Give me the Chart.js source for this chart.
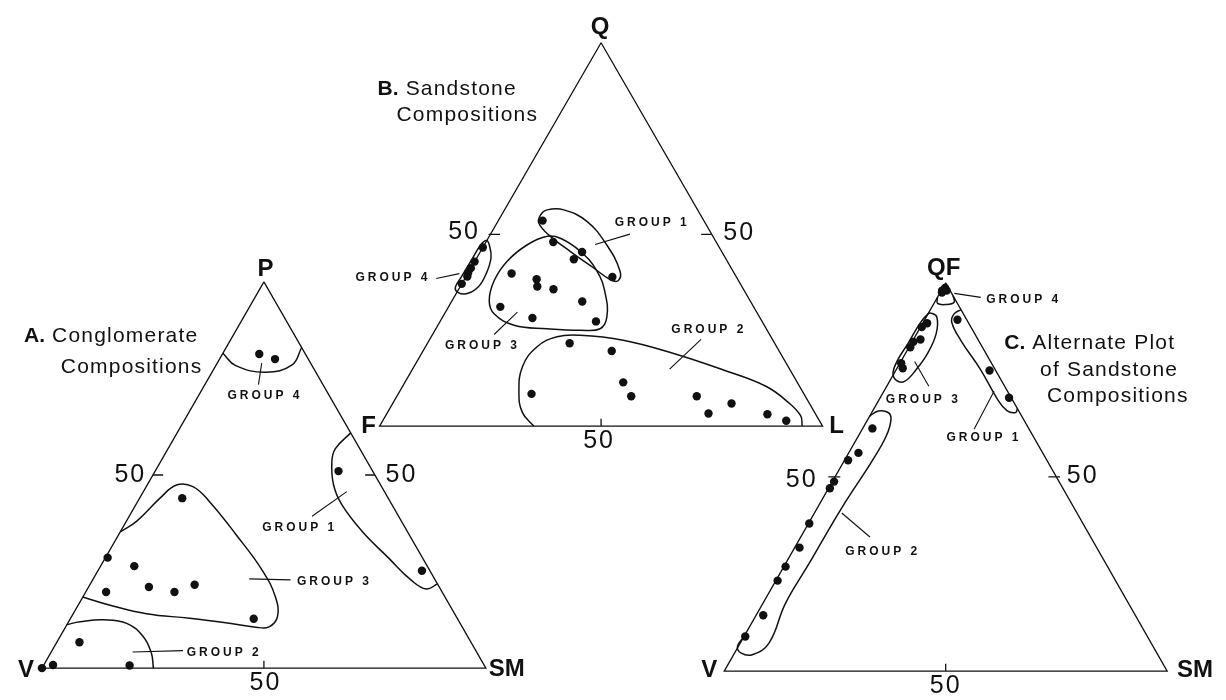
<!DOCTYPE html>
<html><head><meta charset="utf-8">
<script src="https://cdn.jsdelivr.net/npm/chart.js@4.4.1/dist/chart.umd.min.js"></script>
<style>html,body{margin:0;padding:0;background:#fff}#wrap{width:1226px;height:700px;position:relative}</style>
</head><body><div id="wrap"><canvas id="c" width="1226" height="700"></canvas></div>
<script>
// ---------- DATA (ternary compositions in %, pairs = [top apex %, right apex %]; left = 100 - top - right) ----------
// A. Conglomerate compositions: apexes P (top), V (left), SM (right)
const conglVertices = ['P', 'V', 'SM'];
const conglGroup1 = [[51.0, 41.3], [25.2, 73.0]];
const conglGroup2 = [[6.7, 5.1], [0.8, 2.1], [0, 0], [0.7, 19.4]];
const conglGroup3 = [[44.0, 9.6], [28.6, 0.5], [26.4, 7.6], [19.7, 4.6], [21.0, 13.6], [19.7, 20.0], [21.6, 23.6], [12.8, 41.3]];
const conglGroup4 = [[81.3, 8.3], [80.0, 12.5]];
const conglEnv1 = [[60.9, 39.1], [56.8, 37.7], [53.4, 38.6], [47.4, 42.0], [42.3, 46.4], [35.5, 54.3], [28.6, 63.7], [22.7, 71.9], [20.5, 76.3], [21.8, 78.2]];
const conglEnv2 = [[11.3, 0], [12.0, 2.6], [12.5, 7.7], [11.6, 13.3], [8.2, 18.7], [3.9, 22.7], [0, 25.1]];
const conglEnv3 = [[35.3, 0], [38.0, 2.3], [44.0, 4.6], [47.4, 6.6], [47.0, 10.5], [43.1, 16.2], [34.6, 26.4], [25.2, 37.1], [18.4, 43.4], [13.3, 46.4], [10.7, 45.8], [10.6, 42.9], [11.6, 36.4], [12.9, 26.8], [14.1, 16.5], [16.3, 7.2], [18.4, 0]];
const conglEnv4 = [[81.5, 0], [78.3, 4.5], [76.6, 12.1], [78.5, 17.1], [83.0, 17.0]];

// B. Sandstone compositions: apexes Q (top), F (left), L (right)
const sandVertices = ['Q', 'F', 'L'];
const sandGroup1 = [[53.6, 10.0], [48.0, 15.2], [45.4, 23.0], [43.5, 22.1], [38.9, 33.1]];
const sandGroup2 = [[21.6, 32.1], [19.6, 42.6], [11.4, 49.3], [7.8, 52.9], [8.4, 30.1], [7.8, 67.7], [5.9, 76.5], [3.3, 72.6], [3.1, 86.0], [1.4, 91.1]];
const sandGroup3 = [[39.8, 9.9], [38.3, 16.3], [36.4, 17.4], [35.7, 21.4], [32.5, 29.5], [31.1, 11.7], [28.2, 20.4], [27.3, 35.2]];
const sandGroup4 = [[46.6, 0], [42.9, 0], [41.2, 0], [40.0, 0], [39.0, 0.3], [37.1, 0]];
const sandEnv1 = [[55.1, 8.8], [56.4, 9.6], [56.4, 13.4], [53.4, 20.1], [47.3, 27.6], [40.5, 34.0], [37.9, 34.9], [38.3, 32.8], [41.3, 27.6], [45.6, 20.2], [49.5, 13.8], [52.9, 9.5]];
const sandEnv2 = [[0, 34.8], [3.5, 30.5], [8.7, 27.1], [15.5, 24.5], [20.7, 25.2], [23.3, 28.4], [23.7, 33.4], [22.4, 43.8], [19.0, 56.7], [14.7, 70.1], [10.4, 82.0], [6.1, 89.3], [2.7, 93.7], [0, 95.4]];
const sandEnv3 = [[49.5, 13.1], [47.3, 9.7], [43.0, 7.3], [37.9, 6.9], [32.7, 8.4], [29.3, 11.2], [26.3, 17.2], [25.4, 25.1], [25.0, 32.8], [25.4, 37.1], [28.4, 37.1], [34.5, 33.7], [40.5, 28.8], [45.6, 22.5], [49.0, 16.3]];
const sandEnv4 = [[48.4, -0.1], [47.3, 1.1], [43.9, 3.2], [39.6, 4.2], [36.2, 4.1], [34.5, 2.3], [34.9, 0.2], [36.2, -1.0], [38.7, -1.0], [43.0, -0.9], [47.3, -0.8]];

// C. Alternate plot of sandstone compositions: apexes QF (top), V (left), SM (right)
const altVertices = ['QF', 'V', 'SM'];
const altGroup1 = [[90.5, 7.4], [77.4, 21.2], [70.4, 29.1]];
const altGroup2 = [[62.5, 2.2], [56.2, 2.2], [54.3, 0.8], [48.8, 0.4], [47.1, 0.3], [38.0, 0.2], [31.8, 1.1], [26.9, 0.4], [23.3, 0.4], [14.4, 1.6], [8.9, 0.3]];
const altGroup3 = [[89.6, 1.0], [88.6, 0.3], [85.4, 1.6], [84.8, 0.3], [83.4, 0.3], [79.3, 0.3], [78.0, 1.3]];
const altGroup4 = [[98.7, 0.5], [98.0, 0.2], [98.0, 1.2], [97.5, 0.4]];
const altEnv1 = [[93.1, 6.9], [92.0, 5.9], [89.9, 6.4], [85.2, 10.8], [77.6, 19.1], [70.0, 26.7], [67.0, 30.4], [66.6, 32.5], [67.6, 32.4]];
const altEnv2 = [[65.7, 0], [67.0, 1.3], [66.6, 3.7], [64.9, 5.2], [60.6, 6.3], [53.9, 6.3], [42.0, 5.5], [27.6, 5.3], [17.4, 5.1], [7.2, 6.5], [4.2, 4.2], [4.7, 1.4], [6.4, -0.2], [8.9, 0]];
const altEnv3 = [[92.2, 0.6], [91.2, 2.4], [86.9, 4.4], [81.9, 5.0], [77.6, 4.5], [74.6, 3.4], [74.9, 1.4], [76.8, -0.3], [80.2, -0.9], [84.4, -0.7], [89.5, -0.6], [92.0, 0]];
const altEnv4 = [[96.3, 0], [94.7, 0.8], [94.4, 2.9], [95.0, 4.4], [96.7, 3.3]];

const tickValue = 50;
const tickLabel = '50';
const groupNames = ['GROUP 1', 'GROUP 2', 'GROUP 3', 'GROUP 4'];

// ---------- LAYOUT / STYLE ----------
const INK = '#111111';
const layoutA = {x0: 38, y0: 672, w: 447, h: 391, tickL: [0, 2.3], tickR: [47.8, 50]};
const layoutB = {x0: 378, y0: 427, w: 446, h: 388, tickL: [-0.4, 2.2], tickR: [47.6, 50]};
const layoutC = {x0: 725, y0: 675, w: 446, h: 393, tickL: [-1.5, 1.2], tickR: [48.2, 50.8]};

function tern(t, top, right) {
  return {x: t.x0 + (right + top / 2) / 100 * t.w, y: t.y0 - top / 100 * t.h};
}

const datasets = [];
function addLine(pts, extra) {
  datasets.push(Object.assign({type: 'line', data: pts, borderColor: INK, borderWidth: 1.4,
    pointRadius: 0, fill: false, tension: 0, spanGaps: false}, extra || {}));
}
function addOpenEnv(t, arr) {
  addLine(arr.map(([a, c]) => tern(t, a, c)), {tension: 0.42, borderWidth: 1.5});
}
function addClosedEnv(t, arr) {
  const p = arr.map(([a, c]) => tern(t, a, c));
  const n = p.length;
  const data = [p[n - 1], ...p, p[0], p[1]];
  const last = data.length - 1;
  addLine(data, {tension: 0.42, borderWidth: 1.5, segment: {
    borderColor: s => (s.p0DataIndex === 0 || s.p1DataIndex === last) ? 'rgba(0,0,0,0)' : INK
  }});
}
function addPoints(t, arr) {
  datasets.push({type: 'scatter', data: arr.map(([a, c]) => tern(t, a, c)), pointRadius: 4.2,
    pointBackgroundColor: INK, pointBorderWidth: 0, showLine: false});
}
function addTriangle(t) {
  addLine([tern(t, 100, 0), tern(t, 0, 0), tern(t, 0, 100), tern(t, 100, 0)], {borderWidth: 1.3});
  const v = tickValue;
  addLine([tern(t, v, t.tickL[0]), tern(t, v, t.tickL[1])], {borderWidth: 1.3});
  addLine([tern(t, v, t.tickR[0]), tern(t, v, t.tickR[1])], {borderWidth: 1.3});
  addLine([tern(t, 0, v), tern(t, 1.9, v - 0.95)], {borderWidth: 1.3});
}

addTriangle(layoutA); addTriangle(layoutB); addTriangle(layoutC);
addOpenEnv(layoutA, conglEnv1); addOpenEnv(layoutA, conglEnv2); addOpenEnv(layoutA, conglEnv3); addOpenEnv(layoutA, conglEnv4);
addClosedEnv(layoutB, sandEnv1); addOpenEnv(layoutB, sandEnv2); addClosedEnv(layoutB, sandEnv3); addClosedEnv(layoutB, sandEnv4);
addOpenEnv(layoutC, altEnv1); addOpenEnv(layoutC, altEnv2); addClosedEnv(layoutC, altEnv3); addOpenEnv(layoutC, altEnv4);
[conglGroup1, conglGroup2, conglGroup3, conglGroup4].forEach(g => addPoints(layoutA, g));
[sandGroup1, sandGroup2, sandGroup3, sandGroup4].forEach(g => addPoints(layoutB, g));
[altGroup1, altGroup2, altGroup3, altGroup4].forEach(g => addPoints(layoutC, g));

// ---------- TEXT ANNOTATIONS (figure coordinates) ----------
const vertexLabelPos = [
  [conglVertices[0], 263, 268], [conglVertices[1], 22, 674], [conglVertices[2], 506, 673],
  [sandVertices[0], 600, 23], [sandVertices[1], 367, 427], [sandVertices[2], 838, 427],
  [altVertices[0], 946, 267], [altVertices[1], 710, 674], [altVertices[2], 1199, 674]
];
const tickLabelPos = [[126, 477], [399, 477], [262, 687], [462, 231], [739, 232], [598, 442], [802, 482], [1085, 478], [947, 690]];
const groupLabelPos = [
  [3, 261, 396], [0, 296, 530], [2, 331, 585], [1, 220, 656],
  [0, 651, 221], [3, 390, 277], [2, 480, 346], [1, 708, 329],
  [3, 1025, 299], [2, 924, 400], [0, 985, 439], [1, 883, 554]
];
const leaders = [
  [259.3, 363.3, 256, 385], [310, 518.3, 345, 493.3], [246.7, 581.7, 288.3, 582.7], [129.3, 655.7, 180, 654.3],
  [595, 243.3, 630, 232.7], [435, 277.7, 458.3, 272.7], [493.3, 334.3, 516.7, 311.7], [670, 369.3, 701.7, 339.3],
  [956.7, 292.7, 983.3, 296.7], [916.7, 361.7, 931, 386.7], [996.7, 391.7, 976.7, 430], [843.3, 515, 871.7, 539.3]
];
const titleLines = [
  ['A.', ' Conglomerate', 20, 336], ['', 'Compositions', 57, 367],
  ['B.', ' Sandstone', 376, 86], ['', 'Compositions', 395, 112],
  ['C.', ' Alternate Plot', 1007, 343], ['', 'of Sandstone', 1043, 370], ['', 'Compositions', 1050, 397]
];

const figText = {
  id: 'figText',
  afterDatasetsDraw(chart) {
    const {ctx, scales: {x, y}} = chart;
    const X = v => x.getPixelForValue(v), Y = v => y.getPixelForValue(v);
    ctx.save();
    ctx.strokeStyle = INK; ctx.lineWidth = 1.1;
    leaders.forEach(([x1, y1, x2, y2]) => { ctx.beginPath(); ctx.moveTo(X(x1), Y(y1)); ctx.lineTo(X(x2), Y(y2)); ctx.stroke(); });
    ctx.fillStyle = INK; ctx.textBaseline = 'middle';
    ctx.textAlign = 'center';
    ctx.font = 'bold 24px "Liberation Sans", Arial, sans-serif'; ctx.letterSpacing = '0px';
    vertexLabelPos.forEach(([s, px, py]) => ctx.fillText(s, X(px), Y(py)));
    ctx.font = '25px "Liberation Sans", Arial, sans-serif'; ctx.letterSpacing = '2px';
    tickLabelPos.forEach(([px, py]) => ctx.fillText(tickLabel, X(px) + 1, Y(py)));
    ctx.font = 'bold 12px "Liberation Sans", Arial, sans-serif'; ctx.letterSpacing = '3px';
    groupLabelPos.forEach(([gi, px, py]) => ctx.fillText(groupNames[gi], X(px) + 1.5, Y(py)));
    ctx.textAlign = 'left';
    titleLines.forEach(([b, rest, px, py]) => {
      let cx = X(px);
      if (b) {
        ctx.font = 'bold 21px "Liberation Sans", Arial, sans-serif'; ctx.letterSpacing = '0px';
        ctx.fillText(b, cx, Y(py)); cx += ctx.measureText(b).width;
      }
      ctx.font = '21px "Liberation Sans", Arial, sans-serif'; ctx.letterSpacing = '1.2px';
      try { ctx.wordSpacing = '4px'; } catch (e) {}
      ctx.fillText(rest, cx, Y(py));
      try { ctx.wordSpacing = '0px'; } catch (e) {}
    });
    ctx.restore();
  }
};

new Chart(document.getElementById('c'), {
  type: 'scatter',
  data: {datasets},
  options: {
    responsive: false, animation: false, events: [],
    layout: {padding: 0},
    scales: {
      x: {type: 'linear', min: 0, max: 1226, display: false},
      y: {type: 'linear', min: 0, max: 700, reverse: true, display: false}
    },
    plugins: {legend: {display: false}, tooltip: {enabled: false}}
  },
  plugins: [figText]
});
</script></body></html>
